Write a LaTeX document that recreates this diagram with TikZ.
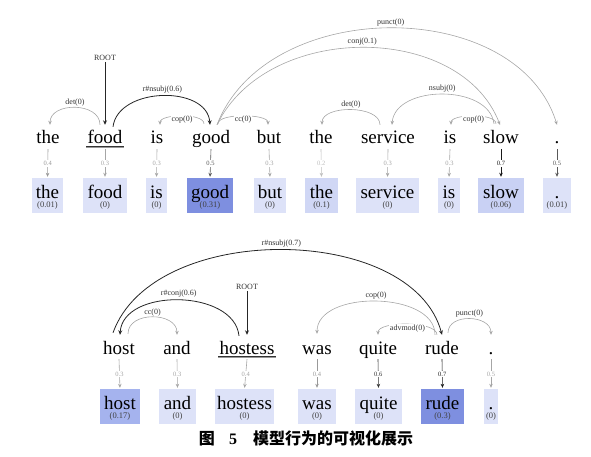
\documentclass[tikz,border=0pt]{standalone}
\usepackage{fontspec}
\setmainfont{Liberation Serif}
\newfontfamily\cjk{Noto Sans CJK SC}
\usetikzlibrary{arrows.meta}
\definecolor{bxl}{HTML}{DDE2F8}
\definecolor{bxhi}{HTML}{7E8FE0}
\definecolor{bxth}{HTML}{D0D7F5}
\definecolor{bxsl}{HTML}{C9D1F4}
\definecolor{bxho}{HTML}{A5B3EE}
\tikzset{
 word/.style={font=\fontsize{19}{19}\selectfont, text height=13pt, text depth=4pt, inner sep=1pt, anchor=base},
 tokbox/.style={rectangle, inner sep=0pt, minimum height=35pt},
 boxword/.style={font=\fontsize{19}{19}\selectfont, inner sep=0pt, anchor=base},
 boxval/.style={font=\fontsize{8.5}{9}\selectfont, inner sep=0pt, text=black!75},
 lab/.style={font=\fontsize{8}{8}\selectfont, inner sep=1pt, text=black!80},
 num/.style={font=\fontsize{6.5}{6.5}\selectfont, inner sep=0.8pt, fill=white},
 arcg/.style={draw=black!35, line width=0.6pt, -{Stealth[length=4pt,width=3.5pt]}},
 arcb/.style={draw=black!85, line width=0.8pt, -{Stealth[length=4.5pt,width=4pt]}},
 varrow/.style={draw=#1, line width=0.6pt, -{Stealth[length=4pt,width=3.5pt]}, shorten >=1pt},
 uline/.style={line width=0.6pt, draw=black!80},
 uline2/.style={line width=0.5pt, draw=black!40},
}
\newcommand\wordat[4]{\node[word] (#1) at (#2,#3) {#4};}
\newcommand\boxat[7]{%
 \node[tokbox, fill=#5, minimum width=#4pt] (#1) at (#2,#3+17.5) {};
 \node[boxword] (#1w) at (#2,#3+20) {#6};
 \node[boxval] (#1v) at (#2,#3+27.5) {#7};
}
\newcommand\linkwb[4]{\draw[varrow=#3] (#1.south) -- node[num, text=#3]{#4} (#2.north);}
\begin{document}
\begin{tikzpicture}[x=1pt,y=-1pt]
\useasboundingbox (0,0) rectangle (591,457);
% ---------- top sentence ----------
\wordat{the1}{48}{144}{the}
\wordat{food}{105}{144}{food}
\wordat{is1}{157}{144}{is}
\wordat{good}{211}{144}{good}
\wordat{but}{269}{144}{but}
\wordat{the2}{321}{144}{the}
\wordat{service}{388}{144}{service}
\wordat{is2}{450}{144}{is}
\wordat{slow}{501}{144}{slow}
\wordat{dot1}{557}{144}{.}
\draw[uline] ([yshift=-2pt]food.base west) -- ([yshift=-2pt]food.base east);
\draw[uline2] ([yshift=-3.7pt]food.base west) -- ([yshift=-3.7pt]food.base east);

\boxat{b1}{47.5}{178}{31}{bxl}{the}{(0.01)}
\boxat{b2}{105}{178}{44}{bxl}{food}{(0)}
\boxat{b3}{156.5}{178}{21}{bxl}{is}{(0)}
\boxat{b4}{210}{178}{46}{bxhi}{good}{(0.31)}
\boxat{b5}{270}{178}{32}{bxl}{but}{(0)}
\boxat{b6}{321.5}{178}{33}{bxth}{the}{(0.1)}
\boxat{b7}{387.5}{178}{63}{bxl}{service}{(0)}
\boxat{b8}{449}{178}{22}{bxl}{is}{(0)}
\boxat{b9}{501}{178}{46}{bxsl}{slow}{(0.06)}
\boxat{b10}{557}{178}{28}{bxl}{.}{(0.01)}

\linkwb{the1}{b1}{black!40}{0.4}
\linkwb{food}{b2}{black!35}{0.3}
\linkwb{is1}{b3}{black!35}{0.3}
\linkwb{good}{b4}{black!65}{0.5}
\linkwb{but}{b5}{black!35}{0.3}
\linkwb{the2}{b6}{black!25}{0.2}
\linkwb{service}{b7}{black!35}{0.3}
\linkwb{is2}{b8}{black!35}{0.3}
\linkwb{slow}{b9}{black!90}{0.7}
\linkwb{dot1}{b10}{black!65}{0.5}

\node[lab] (root1) at (105,58) {ROOT};
\draw[arcb] (root1.south) -- ([yshift=5pt]food.north);
\draw[arcg] ([xshift=-5pt,yshift=5pt]food.north) .. controls +(0,-23) and +(0,-23) .. ([xshift=2pt,yshift=5pt]the1.north) node[lab, midway, above=0pt] {det(0)};
\draw[arcb] ([xshift=8pt,yshift=3pt]food.north) .. controls +(5,-40) and +(-3,-40) .. ([xshift=-1pt,yshift=5pt]good.north) node[lab, midway, above=1pt] {r\#nsubj(0.6)};
\draw[arcg] ([xshift=-7pt,yshift=6pt]good.north) .. controls +(0,-11) and +(0,-11) .. ([xshift=3pt,yshift=5pt]is1.north) node[lab, midway, fill=white, yshift=-4pt] {cop(0)};
\draw[arcg] ([xshift=7pt,yshift=6pt]good.north) .. controls +(0,-11) and +(0,-11) .. ([xshift=-1pt,yshift=5pt]but.north) node[lab, midway, fill=white, yshift=-4pt] {cc(0)};
\draw[arcg] ([xshift=6pt,yshift=5pt]good.north) .. controls +(50,-103) and +(-40,-103) .. ([xshift=-1pt,yshift=5pt]slow.north) node[lab, midway, above=1pt] {conj(0.1)};
\draw[arcg] ([xshift=6pt,yshift=5pt]good.north) .. controls +(50,-129) and +(-40,-129) .. ([yshift=5pt]dot1.north) node[lab, midway, above=1pt] {punct(0)};
\draw[arcg] ([xshift=-8pt,yshift=5pt]service.north) .. controls +(0,-20) and +(0,-20) .. ([xshift=1pt,yshift=5pt]the2.north) node[lab, midway, above=0pt] {det(0)};
\draw[arcg] ([xshift=-7pt,yshift=6pt]slow.north) .. controls +(-5,-40) and +(3,-40) .. ([xshift=4pt,yshift=5pt]service.north) node[lab, midway, above=1pt] {nsubj(0)};
\draw[arcg] ([xshift=-5pt,yshift=6pt]slow.north) .. controls +(0,-11) and +(0,-11) .. ([xshift=1pt,yshift=5pt]is2.north) node[lab, midway, fill=white, yshift=-4pt] {cop(0)};

% ---------- bottom sentence ----------
\wordat{host}{119}{354}{host}
\wordat{and}{177}{354}{and}
\wordat{hostess}{247}{354}{hostess}
\wordat{was}{317}{354}{was}
\wordat{quite}{378}{354}{quite}
\wordat{rude}{442}{354}{rude}
\wordat{dot2}{491}{354}{.}
\draw[uline] ([yshift=-2pt]hostess.base west) -- ([yshift=-2pt]hostess.base east);
\draw[uline2] ([yshift=-3.7pt]hostess.base west) -- ([yshift=-3.7pt]hostess.base east);

\boxat{c1}{120}{389}{40}{bxho}{host}{(0.17)}
\boxat{c2}{177.5}{389}{37}{bxl}{and}{(0)}
\boxat{c3}{244.5}{389}{59}{bxl}{hostess}{(0)}
\boxat{c4}{317}{389}{38}{bxl}{was}{(0)}
\boxat{c5}{378.5}{389}{47}{bxl}{quite}{(0)}
\boxat{c6}{442.5}{389}{43}{bxhi}{rude}{(0.3)}
\boxat{c7}{491}{389}{14}{bxl}{.}{(0)}

\linkwb{host}{c1}{black!35}{0.3}
\linkwb{and}{c2}{black!35}{0.3}
\linkwb{hostess}{c3}{black!35}{0.4}
\linkwb{was}{c4}{black!40}{0.4}
\linkwb{quite}{c5}{black!80}{0.6}
\linkwb{rude}{c6}{black!90}{0.7}
\linkwb{dot2}{c7}{black!35}{0.5}

\node[lab] (root2) at (247,287) {ROOT};
\draw[arcb] (root2.south) -- ([yshift=5pt]hostess.north);
\draw[arcb] ([xshift=-6pt,yshift=7pt]host.north) .. controls +(40,-112) and +(-30,-112) .. ([yshift=5pt]rude.north) node[lab, midway, above=1pt] {r\#nsubj(0.7)};
\draw[arcb] ([xshift=-8pt,yshift=4pt]hostess.north) .. controls +(-5,-47) and +(3,-47) .. ([xshift=1pt,yshift=5pt]host.north) node[lab, midway, above=1pt] {r\#conj(0.6)};
\draw[arcg] ([xshift=9pt,yshift=6pt]host.north) .. controls +(0,-23) and +(0,-23) .. ([yshift=5pt]and.north) node[lab, midway, above=0pt] {cc(0)};
\draw[arcg] ([xshift=-7pt,yshift=5pt]rude.north) .. controls +(0,-44) and +(0,-44) .. ([yshift=6pt]was.north) node[lab, midway, above=1pt] {cop(0)};
\draw[arcg] ([xshift=-5pt,yshift=5pt]rude.north) .. controls +(0,-14) and +(0,-14) .. ([yshift=5pt]quite.north) node[lab, midway, fill=white, yshift=-4pt] {advmod(0)};
\draw[arcg] ([xshift=6pt,yshift=7pt]rude.north) .. controls +(0,-20) and +(0,-20) .. ([yshift=5pt]dot2.north) node[lab, midway, above=0pt] {punct(0)};

% ---------- caption ----------
\node (cap) at (306,438) {\cjk\bfseries\fontsize{16}{16}\selectfont 图\hspace{0.9em}{\rmfamily 5}\hspace{1em}模型行为的可视化展示};
\end{tikzpicture}
\end{document}
